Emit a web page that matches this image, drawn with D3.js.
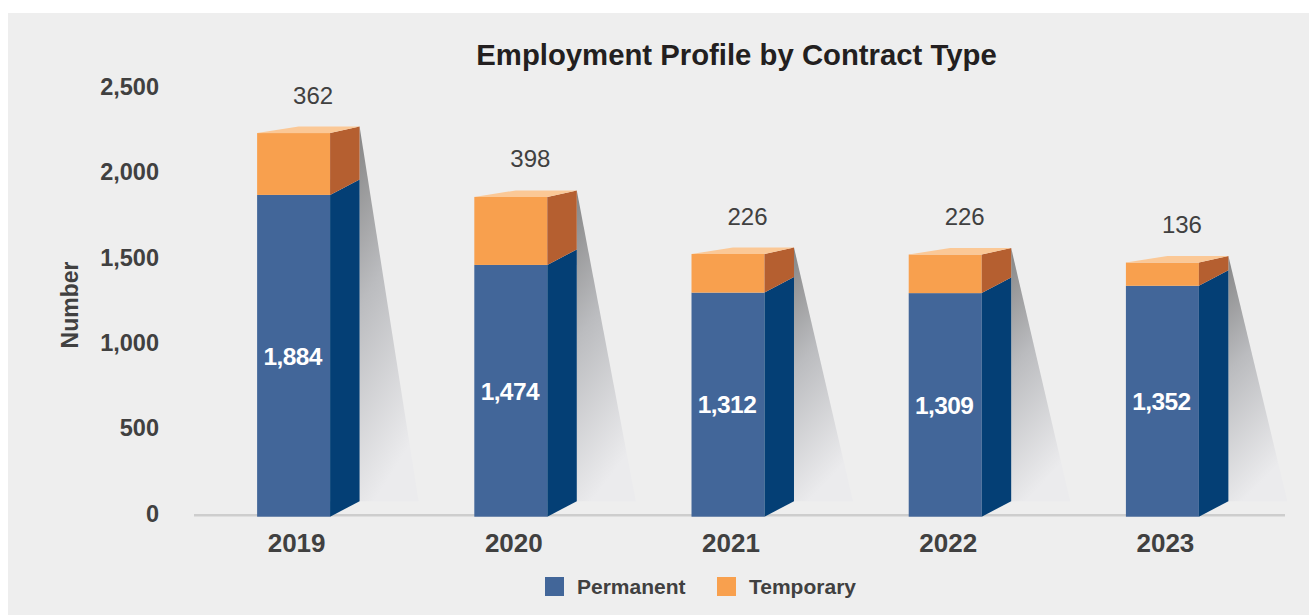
<!DOCTYPE html>
<html>
<head>
<meta charset="utf-8">
<script src="https://cdn.jsdelivr.net/npm/d3@7"></script>
<style>
  html, body { margin: 0; padding: 0; background: #ffffff; }
  svg { display: block; font-family: "Liberation Sans", Arial, Helvetica, sans-serif; }
</style>
</head>
<body>
<div id="chart"></div>
<script>
// chart values
const years = ['2019', '2020', '2021', '2022', '2023'];
const permanent = [1884, 1474, 1312, 1309, 1352];
const temporary = [362, 398, 226, 226, 136];
const yTicks = [0, 500, 1000, 1500, 2000, 2500];
const seriesNames = ['Permanent', 'Temporary'];

const width = 1309;
const height = 615;

// faces of each 3d column
const colors = {
    permFront: '#426699',
    permSide: '#043f75',
    tempFront: '#f8a04e',
    tempSide: '#b55f30',
    tempTop: '#fbc896',
    text: '#404040',
};

const rows = years.map((year, i) => ({
    year,
    perm: permanent[i],
    temp: temporary[i],
    total: permanent[i] + temporary[i],
}));

const svg = d3.select('#chart')
    .append('svg')
    .attr('width', width)
    .attr('height', height);

// gray panel
svg.append('rect')
    .attr('x', 8)
    .attr('y', 13)
    .attr('width', width - 8)
    .attr('height', height - 13)
    .attr('fill', '#eeeeee');

const defs = svg.append('defs');
const grad = defs.append('linearGradient')
    .attr('id', 'shadow-grad')
    .attr('x1', 0).attr('y1', 0)
    .attr('x2', 0.25).attr('y2', 1);
grad.append('stop').attr('offset', '0%').attr('stop-color', '#858585');
grad.append('stop').attr('offset', '45%').attr('stop-color', '#bbbcbf');
grad.append('stop').attr('offset', '100%').attr('stop-color', '#ebebed');

/* SCALES */
const y = d3.scaleLinear()
    .domain([0, 2500])
    .range([516.7, 89.7]);

const x = d3.scaleBand()
    .domain(years)
    .range([185, 1271])
    .paddingInner(0.664)
    .paddingOuter(0.332);

const bw = x.bandwidth();
const depthX = 29.5;   // side face width
const depthY = 15.5;   // side face rise
const capY = 6.5;      // rise of the top cap back edge
const backLeft = 41.5; // back-left corner of the top cap

// baseline
svg.append('line')
    .attr('x1', 194)
    .attr('x2', 1285)
    .attr('y1', 515.3)
    .attr('y2', 515.3)
    .attr('stroke', '#cdcdcd')
    .attr('stroke-width', 2.5);

/* Y AXIS */
const yAxis = svg.append('g')
    .attr('class', 'y-axis')
    .attr('transform', 'translate(165,0)')
    .call(d3.axisLeft(y).tickValues(yTicks).tickSize(0).tickPadding(6).tickFormat(d3.format(',')));

yAxis.select('.domain').remove();
yAxis.selectAll('text')
    .attr('dy', '0.32em')
    .attr('y', -3)
    .style('font-family', '"Liberation Sans", Arial, sans-serif')
    .style('font-size', '23.5px')
    .style('font-weight', 'bold')
    .attr('fill', colors.text);

svg.append('text')
    .attr('transform', 'translate(70,305) rotate(-90)')
    .attr('text-anchor', 'middle')
    .attr('dy', '0.35em')
    .style('font-size', '23px')
    .style('font-weight', 'bold')
    .attr('fill', colors.text)
    .text('Number');

/* BARS */
const bars = svg.append('g')
    .attr('class', 'bars')
    .selectAll('g.bar')
    .data(rows)
    .join('g')
    .attr('class', 'bar');

// shadow cast to the right of each column
bars.append('path')
    .attr('fill', 'url(#shadow-grad)')
    .attr('d', (d) => {
        const x1 = x(d.year) + bw + depthX;
        const yt = y(d.total) - capY;
        const yb = y(0) - depthY;
        return `M${x1},${yt}L${x1 + 59},${yb}L${x1},${yb}Z`;
    });

// permanent front
bars.append('rect')
    .attr('x', (d) => x(d.year))
    .attr('y', (d) => y(d.perm))
    .attr('width', bw)
    .attr('height', (d) => y(0) - y(d.perm))
    .attr('fill', colors.permFront);

// permanent side
bars.append('path')
    .attr('fill', colors.permSide)
    .attr('d', (d) => {
        const x1 = x(d.year) + bw;
        return `M${x1},${y(0)}L${x1 + depthX},${y(0) - depthY}L${x1 + depthX},${y(d.perm) - depthY}L${x1},${y(d.perm)}Z`;
    });

// temporary front
bars.append('rect')
    .attr('x', (d) => x(d.year))
    .attr('y', (d) => y(d.total))
    .attr('width', bw)
    .attr('height', (d) => y(d.perm) - y(d.total))
    .attr('fill', colors.tempFront);

// temporary side
bars.append('path')
    .attr('fill', colors.tempSide)
    .attr('d', (d) => {
        const x1 = x(d.year) + bw;
        return `M${x1},${y(d.perm)}L${x1 + depthX},${y(d.perm) - depthY}L${x1 + depthX},${y(d.total) - capY}L${x1},${y(d.total)}Z`;
    });

// top cap
bars.append('path')
    .attr('fill', colors.tempTop)
    .attr('d', (d) => {
        const x0 = x(d.year);
        const x1 = x0 + bw;
        const yt = y(d.total);
        return `M${x0},${yt}L${x0 + backLeft},${yt - capY}L${x1 + depthX},${yt - capY}L${x1},${yt}Z`;
    });

// permanent value inside the column
bars.append('text')
    .attr('x', (d) => x(d.year) + bw / 2 - 1)
    .attr('y', (d) => (y(0) + y(d.perm)) / 2)
    .attr('dy', '0.36em')
    .attr('text-anchor', 'middle')
    .attr('fill', '#ffffff')
    .style('font-size', '24.5px')
    .style('font-weight', 'bold')
    .style('letter-spacing', '-0.6px')
    .text((d) => d3.format(',')(d.perm));

// temporary value above the column
bars.append('text')
    .attr('x', (d) => x(d.year) + 56)
    .attr('y', (d) => y(d.total) - capY - 23)
    .attr('text-anchor', 'middle')
    .attr('fill', colors.text)
    .style('font-size', '24px')
    .text((d) => d3.format(',')(d.temp));

/* X LABELS */
svg.append('g')
    .selectAll('text')
    .data(years)
    .join('text')
    .attr('x', (d) => x(d) + bw / 2 + 3)
    .attr('y', 552)
    .attr('text-anchor', 'middle')
    .attr('fill', colors.text)
    .style('font-size', '26px')
    .style('font-weight', 'bold')
    .text((d) => d);

/* TITLE */
svg.append('text')
    .attr('x', 736.5)
    .attr('y', 65)
    .attr('text-anchor', 'middle')
    .attr('fill', '#231f20')
    .style('font-size', '29.3px')
    .style('font-weight', 'bold')
    .text('Employment Profile by Contract Type');

/* LEGEND */
const legend = svg.append('g')
    .selectAll('g')
    .data(seriesNames)
    .join('g')
    .attr('transform', (d, i) => `translate(${[545, 717][i]},577)`);

legend.append('rect')
    .attr('width', 19)
    .attr('height', 19)
    .attr('fill', (d, i) => (i === 0 ? colors.permFront : colors.tempFront));

legend.append('text')
    .attr('x', 32)
    .attr('y', 17)
    .attr('fill', colors.text)
    .style('font-size', '21px')
    .style('font-weight', 'bold')
    .text((d) => d);
</script>
</body>
</html>
